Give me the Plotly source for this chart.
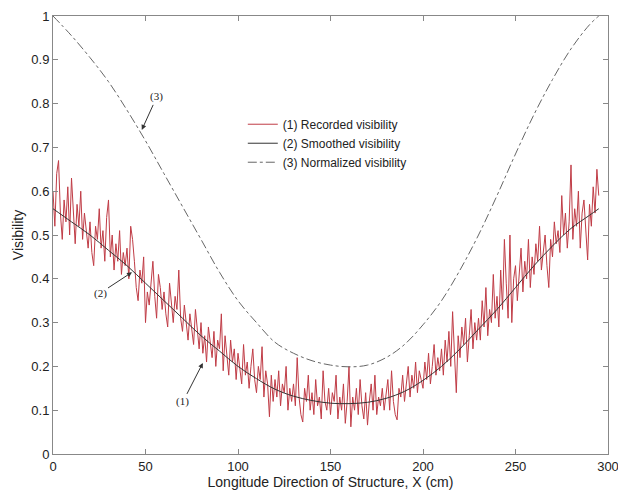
import numpy as np
import plotly.graph_objects as go

# Recorded visibility, one sample per cm (x = 0..295)
recorded = [
    0.60, 0.52, 0.64, 0.67, 0.55, 0.49, 0.58, 0.53, 0.61, 0.50,
    0.63, 0.54, 0.48, 0.57, 0.52, 0.60, 0.49, 0.55, 0.51, 0.47,
    0.53, 0.46, 0.43, 0.52, 0.49, 0.56, 0.47, 0.51, 0.44, 0.54,
    0.58, 0.45, 0.50, 0.42, 0.48, 0.44, 0.51, 0.41, 0.46, 0.43,
    0.47, 0.40, 0.52, 0.49, 0.44, 0.38, 0.35, 0.42, 0.39, 0.45,
    0.30, 0.37, 0.34, 0.40, 0.44, 0.36, 0.31, 0.41, 0.38, 0.33,
    0.37, 0.32, 0.29, 0.39, 0.34, 0.30, 0.36, 0.33, 0.42, 0.31,
    0.28, 0.34, 0.30, 0.26, 0.32, 0.28, 0.25, 0.33, 0.29, 0.24,
    0.30, 0.23, 0.27, 0.21, 0.29, 0.25, 0.22, 0.28, 0.20, 0.26,
    0.24, 0.32, 0.19, 0.27, 0.22, 0.18, 0.26, 0.21, 0.24, 0.17,
    0.23, 0.19, 0.16, 0.25, 0.18, 0.21, 0.15, 0.20, 0.24, 0.17,
    0.14, 0.20, 0.17, 0.245, 0.13, 0.19, 0.16, 0.085, 0.18, 0.12,
    0.17, 0.13, 0.19, 0.11, 0.16, 0.14, 0.20, 0.10, 0.15, 0.12,
    0.16, 0.11, 0.22, 0.13, 0.09, 0.073, 0.15, 0.12, 0.18, 0.10,
    0.14, 0.09, 0.17, 0.11, 0.13, 0.08, 0.19, 0.12, 0.10, 0.15,
    0.09, 0.14, 0.12, 0.18, 0.08, 0.13, 0.10, 0.16, 0.07, 0.12,
    0.20, 0.062, 0.13, 0.10, 0.15, 0.09, 0.17, 0.11, 0.08, 0.14,
    0.066, 0.12, 0.16, 0.10, 0.18, 0.09, 0.13, 0.11, 0.15, 0.10,
    0.14, 0.17, 0.10, 0.19, 0.12, 0.09, 0.078, 0.15, 0.13, 0.18,
    0.12, 0.16, 0.20, 0.13, 0.18, 0.15, 0.21, 0.14, 0.19, 0.17,
    0.15, 0.21, 0.17, 0.23, 0.16, 0.20, 0.25, 0.18, 0.22, 0.19,
    0.24, 0.18, 0.26, 0.21, 0.28, 0.20, 0.325, 0.23, 0.14, 0.27,
    0.22, 0.29, 0.25, 0.31, 0.21, 0.27, 0.33, 0.24, 0.30, 0.26,
    0.31, 0.26, 0.35, 0.29, 0.38, 0.27, 0.33, 0.30, 0.41, 0.31,
    0.36, 0.29, 0.42, 0.33, 0.49, 0.39, 0.31, 0.50, 0.30, 0.40,
    0.43, 0.35, 0.41, 0.47, 0.37, 0.44, 0.40, 0.49, 0.38, 0.45,
    0.41, 0.48, 0.44, 0.52, 0.42, 0.46, 0.50, 0.43, 0.38, 0.49,
    0.45, 0.53, 0.48, 0.51, 0.46, 0.59, 0.50, 0.55, 0.47, 0.53,
    0.66, 0.49, 0.56, 0.52, 0.60, 0.47, 0.55, 0.58, 0.50, 0.443,
    0.57, 0.52, 0.61, 0.55, 0.65, 0.59,
]
recorded_x = list(range(len(recorded)))

# Smoothed and normalized curves, read every 10 cm
curve_x = [0, 10, 20, 30, 40, 50, 60, 70, 80, 90, 100, 110, 120, 130, 140, 150,
           160, 170, 180, 190, 200, 210, 220, 230, 240, 250, 260, 270, 280, 290, 295]
smoothed = [0.56, 0.53, 0.50, 0.465, 0.43, 0.39, 0.35, 0.31, 0.27, 0.235, 0.20,
            0.172, 0.148, 0.132, 0.122, 0.116, 0.115, 0.118, 0.127, 0.143, 0.168,
            0.20, 0.24, 0.285, 0.33, 0.38, 0.43, 0.475, 0.515, 0.545, 0.56]
normalized = [1.0, 0.955, 0.905, 0.85, 0.785, 0.715, 0.64, 0.565, 0.49, 0.415, 0.35,
              0.30, 0.255, 0.23, 0.213, 0.203, 0.199, 0.203, 0.22, 0.25, 0.295,
              0.35, 0.42, 0.50, 0.59, 0.685, 0.775, 0.855, 0.925, 0.98, 1.0]

series_names = ["(1) Recorded visibility", "(2) Smoothed visibility", "(3) Normalized visibility"]
x_ticks = [0, 50, 100, 150, 200, 250, 300]
y_ticks = [0, 0.1, 0.2, 0.3, 0.4, 0.5, 0.6, 0.7, 0.8, 0.9, 1]

fig = go.Figure()
fig.add_trace(go.Scatter(x=recorded_x, y=recorded, mode="lines", name=series_names[0],
                         line=dict(color="#c03c46", width=1)))
fig.add_trace(go.Scatter(x=curve_x, y=smoothed, mode="lines", name=series_names[1],
                         line=dict(color="#333333", width=1, shape="spline")))
fig.add_trace(go.Scatter(x=curve_x, y=normalized, mode="lines", name=series_names[2],
                         line=dict(color="#666666", width=1, dash="dashdot", shape="spline")))

ann_font = dict(family="Liberation Serif, Times New Roman, serif", size=11, color="#222")
for label, xx, yy, ax, ay in [("(3)", 48, 0.74, 15, -33),
                              ("(2)", 42.7, 0.415, -32, 21),
                              ("(1)", 81, 0.208, -20, 39)]:
    fig.add_annotation(x=xx, y=yy, text=label, showarrow=True, ax=ax, ay=ay,
                       arrowhead=2, arrowsize=1, arrowwidth=1, arrowcolor="#333",
                       font=ann_font)

axis_common = dict(showline=True, linecolor="#888888", linewidth=1, mirror="ticks",
                   ticks="inside", ticklen=5, tickcolor="#888888", showgrid=False,
                   zeroline=False, automargin=False, ticklabeloverflow="allow",
                   tickfont=dict(size=13, color="#222"))
fig.update_xaxes(range=[0, 300], tickvals=x_ticks, **axis_common,
                 title=dict(text="Longitude Direction of Structure, X (cm)",
                            font=dict(size=14, color="#222"), standoff=0))
fig.update_yaxes(range=[0, 1], tickvals=y_ticks, **axis_common,
                 title=dict(text="Visibility", font=dict(size=14, color="#222"), standoff=4))

fig.update_layout(
    width=618, height=493,
    margin=dict(l=53, r=10, t=16, b=39),
    plot_bgcolor="white", paper_bgcolor="white",
    font=dict(family="Liberation Sans, Arial, sans-serif", color="#222"),
    legend=dict(x=0.342, y=0.786, xanchor="left", yanchor="top",
                bgcolor="rgba(255,255,255,0)", borderwidth=0,
                font=dict(size=12), tracegroupgap=0, itemwidth=30),
)

fig.write_html("out.html", config={"displayModeBar": False},
               post_script="document.body.style.margin='0';")
